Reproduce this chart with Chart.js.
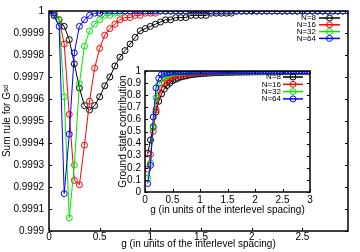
<!DOCTYPE html>
<html>
<head>
<meta charset="utf-8">
<script src="https://cdn.jsdelivr.net/npm/chart.js@4.4.0/dist/chart.umd.min.js"></script>
<style>
  html, body { margin: 0; padding: 0; background: #fff; }
  #wrap { position: relative; width: 360px; height: 252px; }
  #main { position: absolute; left: 0; top: 0; }
  #inset { position: absolute; left: 100px; top: 60px; }
</style>
</head>
<body>
<div id="wrap">
  <canvas id="main" width="360" height="252"></canvas>
  <canvas id="inset" width="225" height="160"></canvas>
</div>
<script>
// series labels and colours
const seriesNames = ['N=8', 'N=16', 'N=32', 'N=64'];
const seriesColors = ['#000000', '#ff0000', '#00e600', '#0000ff'];

// main plot: sum rule vs g
const gMain = [0, 0.05, 0.1, 0.15, 0.2, 0.25, 0.3, 0.35, 0.4, 0.45, 0.5, 0.55, 0.6, 0.65, 0.7, 0.75, 0.8, 0.85, 0.9, 0.95,
  1, 1.05, 1.1, 1.15, 1.2, 1.25, 1.3, 1.35, 1.4, 1.45, 1.5, 1.55, 1.6, 1.65, 1.7, 1.75, 1.8, 1.85, 1.9, 1.95,
  2, 2.05, 2.1, 2.15, 2.2, 2.25, 2.3, 2.35, 2.4, 2.45, 2.5, 2.55, 2.6, 2.65, 2.7, 2.75, 2.8, 2.85, 2.9, 2.95];
const sumN8 = [1, 0.99999, 0.99996, 0.99993, 0.99987, 0.99976, 0.99965, 0.99957, 0.99955, 0.99957,
  0.99961, 0.99966, 0.9997, 0.99975, 0.99979, 0.99982, 0.99985, 0.99988, 0.99991, 0.99992,
  0.99993, 0.99994, 0.99995, 0.99996, 0.99996, 0.99997, 0.99997, 0.99997, 0.99998, 0.99998,
  0.99998, 0.99998, 0.99999, 0.99999, 0.99999, 0.99999, 0.99999, 1, 1, 1,
  1, 1, 1, 1, 1, 1, 1, 1, 1, 1, 1, 1, 1, 1, 1, 1, 1, 1, 1, 1];
const sumN16 = [1, 0.99998, 0.99996, 0.99985, 0.99953, 0.99923, 0.99921, 0.99939, 0.99959, 0.99974,
  0.99983, 0.99989, 0.99992, 0.99994, 0.99996, 0.99997, 0.99997, 0.99998, 0.99998, 0.99999,
  0.99999, 0.99999, 1, 1, 1, 1, 1, 1, 1, 1,
  1, 1, 1, 1, 1, 1, 1, 1, 1, 1,
  1, 1, 1, 1, 1, 1, 1, 1, 1, 1, 1, 1, 1, 1, 1, 1, 1, 1, 1, 1];
const sumN32 = [1, 0.99998, 0.99996, 0.99961, 0.99906, 0.9993, 0.99967, 0.99984, 0.99991, 0.99994,
  0.99996, 0.99998, 0.99998, 0.99999, 0.99999, 1, 1, 1, 1, 1,
  1, 1, 1, 1, 1, 1, 1, 1, 1, 1,
  1, 1, 1, 1, 1, 1, 1, 1, 1, 1,
  1, 1, 1, 1, 1, 1, 1, 1, 1, 1, 1, 1, 1, 1, 1, 1, 1, 1, 1, 1];
const sumN64 = [1, 0.99998, 0.99993, 0.99917, 0.99944, 0.99981, 0.99993, 0.99996, 0.99998, 0.99999,
  0.99999, 1, 1, 1, 1, 1, 1, 1, 1, 1,
  1, 1, 1, 1, 1, 1, 1, 1, 1, 1,
  1, 1, 1, 1, 1, 1, 1, 1, 1, 1,
  1, 1, 1, 1, 1, 1, 1, 1, 1, 1, 1, 1, 1, 1, 1, 1, 1, 1, 1, 1];
const mainXTicks = [0, 0.5, 1, 1.5, 2, 2.5];
const mainYTicks = [0.999, 0.9991, 0.9992, 0.9993, 0.9994, 0.9995, 0.9996, 0.9997, 0.9998, 0.9999, 1];

// inset: ground state contribution vs g
const gInset = [0.05, 0.1, 0.15, 0.2, 0.25, 0.3, 0.35, 0.4, 0.45, 0.5, 0.55, 0.6, 0.65, 0.7, 0.75, 0.8, 0.85, 0.9, 0.95, 1,
  1.05, 1.1, 1.15, 1.2, 1.25, 1.3, 1.35, 1.4, 1.45, 1.5, 1.55, 1.6, 1.65, 1.7, 1.75, 1.8, 1.85, 1.9, 1.95, 2,
  2.05, 2.1, 2.15, 2.2, 2.25, 2.3, 2.35, 2.4, 2.45, 2.5, 2.55, 2.6, 2.65, 2.7, 2.75, 2.8, 2.85, 2.9, 2.95, 3];
const gsN8 = [0.32, 0.43, 0.54, 0.66, 0.75, 0.81, 0.85, 0.88, 0.9, 0.92,
  0.93, 0.94, 0.95, 0.955, 0.96, 0.965, 0.97, 0.972, 0.975, 0.977,
  0.979, 0.98, 0.982, 0.983, 0.984, 0.985, 0.986, 0.987, 0.988, 0.988,
  0.989, 0.989, 0.99, 0.99, 0.99, 0.991, 0.991, 0.991, 0.992, 0.992,
  0.992, 0.992, 0.993, 0.993, 0.993, 0.993, 0.993, 0.994, 0.994, 0.994,
  0.994, 0.994, 0.994, 0.995, 0.995, 0.995, 0.995, 0.995, 0.995, 0.995];
const gsN16 = [0.19, 0.31, 0.5, 0.68, 0.8, 0.86, 0.9, 0.92, 0.94, 0.95,
  0.96, 0.965, 0.97, 0.975, 0.978, 0.98, 0.982, 0.984, 0.986, 0.987,
  0.988, 0.989, 0.99, 0.99, 0.991, 0.991, 0.992, 0.992, 0.993, 0.993,
  0.993, 0.994, 0.994, 0.994, 0.994, 0.995, 0.995, 0.995, 0.995, 0.995,
  0.996, 0.996, 0.996, 0.996, 0.996, 0.996, 0.996, 0.996, 0.996, 0.996,
  0.996, 0.996, 0.997, 0.997, 0.997, 0.997, 0.997, 0.997, 0.997, 0.997];
const gsN32 = [0.115, 0.24, 0.53, 0.78, 0.89, 0.93, 0.95, 0.965, 0.975, 0.98,
  0.984, 0.987, 0.989, 0.99, 0.991, 0.992, 0.993, 0.993, 0.994, 0.994,
  0.995, 0.995, 0.995, 0.995, 0.996, 0.996, 0.996, 0.996, 0.996, 0.996,
  0.996, 0.997, 0.997, 0.997, 0.997, 0.997, 0.997, 0.997, 0.997, 0.997,
  0.997, 0.997, 0.997, 0.997, 0.997, 0.998, 0.998, 0.998, 0.998, 0.998,
  0.998, 0.998, 0.998, 0.998, 0.998, 0.998, 0.998, 0.998, 0.998, 0.998];
const gsN64 = [0.07, 0.22, 0.62, 0.86, 0.94, 0.97, 0.98, 0.985, 0.99, 0.992,
  0.993, 0.994, 0.995, 0.995, 0.996, 0.996, 0.996, 0.997, 0.997, 0.997,
  0.997, 0.997, 0.997, 0.998, 0.998, 0.998, 0.998, 0.998, 0.998, 0.998,
  0.998, 0.998, 0.998, 0.998, 0.998, 0.998, 0.998, 0.998, 0.998, 0.998,
  0.999, 0.999, 0.999, 0.999, 0.999, 0.999, 0.999, 0.999, 0.999, 0.999,
  0.999, 0.999, 0.999, 0.999, 0.999, 0.999, 0.999, 0.999, 0.999, 0.999];
const insetXTicks = [0, 0.5, 1, 1.5, 2, 2.5, 3];
const insetYTicks = [0, 0.1, 0.2, 0.3, 0.4, 0.5, 0.6, 0.7, 0.8, 0.9, 1];

Chart.defaults.font.family = '"Liberation Sans", Arial, Helvetica, sans-serif';
Chart.defaults.font.size = 10;
Chart.defaults.color = '#000';

function makeDatasets(xs, seriesList, radius) {
  return seriesList.map((ys, i) => ({
    label: seriesNames[i],
    data: xs.map((x, j) => ({ x: x, y: ys[j] })),
    borderColor: seriesColors[i],
    backgroundColor: 'transparent',
    borderWidth: 1,
    pointRadius: radius,
    pointBorderWidth: 1,
    pointBorderColor: seriesColors[i],
    pointBackgroundColor: 'transparent',
    tension: 0,
    order: seriesList.length - i
  }));
}

// box, inward ticks and small legend
const framePlugin = {
  id: 'frame',
  afterDraw(chart, args, opts) {
    const { ctx, chartArea: a, scales } = chart;
    const xs = scales.x, ys = scales.y;
    ctx.save();
    ctx.strokeStyle = '#000';
    ctx.lineWidth = 1;
    ctx.beginPath();
    xs.ticks.forEach(t => {
      const px = Math.round(xs.getPixelForValue(t.value)) + 0.5;
      ctx.moveTo(px, a.bottom); ctx.lineTo(px, a.bottom - 3);
      ctx.moveTo(px, a.top); ctx.lineTo(px, a.top + 3);
    });
    ys.ticks.forEach(t => {
      const py = Math.round(ys.getPixelForValue(t.value)) + 0.5;
      ctx.moveTo(a.left, py); ctx.lineTo(a.left + 3, py);
      ctx.moveTo(a.right, py); ctx.lineTo(a.right - 3, py);
    });
    ctx.stroke();
    ctx.lineWidth = 1.5;
    ctx.strokeRect(a.left, a.top, a.right - a.left, a.bottom - a.top);

    // legend
    ctx.font = opts.fontSize + 'px "Liberation Sans", Arial, sans-serif';
    ctx.textAlign = 'right';
    ctx.textBaseline = 'middle';
    chart.data.datasets.forEach((ds, i) => {
      const yy = a.top + opts.top + i * opts.step;
      ctx.fillStyle = '#000';
      ctx.fillText(ds.label, a.right - opts.textRight, yy);
      ctx.strokeStyle = ds.borderColor;
      ctx.lineWidth = 1.5;
      ctx.beginPath();
      ctx.moveTo(a.right - opts.lineFrom, yy);
      ctx.lineTo(a.right - opts.lineTo, yy);
      ctx.stroke();
      ctx.lineWidth = 1;
      ctx.beginPath();
      ctx.arc(a.right - (opts.lineFrom + opts.lineTo) / 2, yy, 3, 0, Math.PI * 2);
      ctx.stroke();
    });
    ctx.restore();
  }
};

const noGrid = { display: false, drawTicks: false, tickLength: 0 };

new Chart(document.getElementById('main'), {
  type: 'line',
  data: { datasets: makeDatasets(gMain, [sumN8, sumN16, sumN32, sumN64], 3) },
  options: {
    responsive: false,
    animation: false,
    layout: { padding: { top: 8, right: 12, left: 0, bottom: 0 } },
    plugins: {
      legend: { display: false },
      tooltip: { enabled: false },
      frame: { fontSize: 8, top: 7, step: 6.8, textRight: 32, lineFrom: 29, lineTo: 8 }
    },
    scales: {
      x: {
        type: 'linear', min: 0, max: 2.95,
        grid: noGrid, border: { display: false },
        afterBuildTicks: s => { s.ticks = mainXTicks.map(v => ({ value: v })); },
        afterFit: s => { s.height = 21; },
        ticks: { padding: 0, maxRotation: 0, autoSkip: false, callback: v => String(v) },
        title: { display: true, text: 'g (in units of the interlevel spacing)', padding: { top: 0, bottom: 2 } }
      },
      y: {
        type: 'linear', min: 0.999, max: 1,
        grid: noGrid, border: { display: false },
        afterBuildTicks: s => { s.ticks = mainYTicks.map(v => ({ value: v })); },
        afterFit: s => { s.width = 49; },
        ticks: { padding: 5, autoSkip: false, callback: v => String(v) },
        title: { display: true, text: 'Sum rule for Gˢᵈ', padding: { top: 1, bottom: 0 } }
      }
    }
  },
  plugins: [framePlugin]
});

new Chart(document.getElementById('inset'), {
  type: 'line',
  data: { datasets: makeDatasets(gInset, [gsN8, gsN16, gsN32, gsN64], 3) },
  options: {
    responsive: false,
    animation: false,
    layout: { padding: { top: 11, right: 15, left: 0, bottom: 0 } },
    plugins: {
      legend: { display: false },
      tooltip: { enabled: false },
      frame: { fontSize: 8, top: 6, step: 7.3, textRight: 29, lineFrom: 27, lineTo: 7 }
    },
    scales: {
      x: {
        type: 'linear', min: 0, max: 3,
        grid: noGrid, border: { display: false },
        afterBuildTicks: s => { s.ticks = insetXTicks.map(v => ({ value: v })); },
        afterFit: s => { s.height = 28; },
        ticks: { padding: 2, maxRotation: 0, autoSkip: false, callback: v => String(v) },
        title: { display: true, text: 'g (in units of the interlevel spacing)', padding: { top: 0, bottom: 4 } }
      },
      y: {
        type: 'linear', min: 0, max: 1,
        grid: noGrid, border: { display: false },
        afterBuildTicks: s => { s.ticks = insetYTicks.map(v => ({ value: v })); },
        afterFit: s => { s.width = 45; },
        ticks: { padding: 4, autoSkip: false, callback: v => String(v) },
        title: { display: true, text: 'Ground state contribution', padding: { top: 17, bottom: 0 } }
      }
    }
  },
  plugins: [framePlugin]
});
</script>
</body>
</html>
